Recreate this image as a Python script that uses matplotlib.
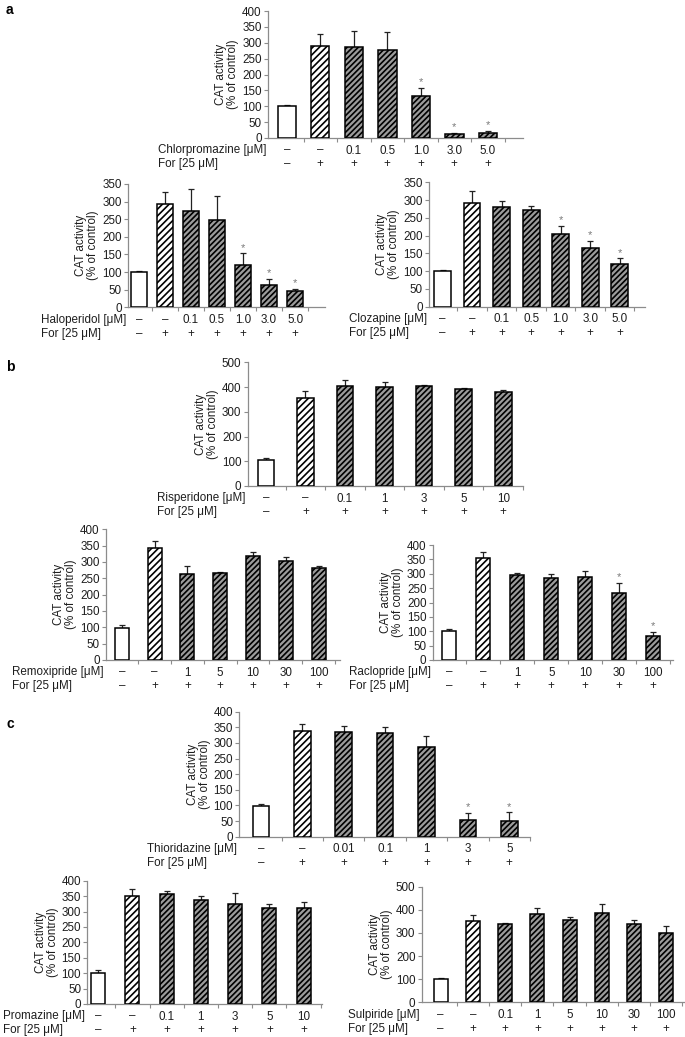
import matplotlib
matplotlib.use("Agg")
import matplotlib.pyplot as plt
from matplotlib.transforms import offset_copy
import numpy as np

plt.rcParams["font.family"] = ["Liberation Sans", "DejaVu Sans"]
plt.rcParams["font.size"] = 8.4
plt.rcParams["hatch.linewidth"] = 1.2

W, H = 685, 1037

# ---- data ----
for_plus = ["–", "+", "+", "+", "+", "+", "+", "+"]

chlor_doses = ["–", "–", "0.1", "0.5", "1.0", "3.0", "5.0"]
chlor_mean = [100, 291, 287, 277, 132, 13, 15]
chlor_err = [3, 36, 50, 58, 27, 2, 7]
chlor_star = [4, 5, 6]

halo_doses = ["–", "–", "0.1", "0.5", "1.0", "3.0", "5.0"]
halo_mean = [100, 294, 274, 248, 120, 63, 46]
halo_err = [3, 32, 61, 69, 33, 17, 7]
halo_star = [4, 5, 6]

cloz_doses = ["–", "–", "0.1", "0.5", "1.0", "3.0", "5.0"]
cloz_mean = [100, 293, 280, 272, 204, 166, 121]
cloz_err = [2, 33, 16, 10, 23, 19, 15]
cloz_star = [4, 5, 6]

risp_doses = ["–", "–", "0.1", "1", "3", "5", "10"]
risp_mean = [105, 357, 405, 399, 404, 393, 380]
risp_err = [7, 27, 25, 23, 5, 5, 8]
risp_star = []

remox_doses = ["–", "–", "1", "5", "10", "30", "100"]
remox_mean = [99, 342, 264, 265, 317, 303, 281]
remox_err = [8, 22, 24, 4, 15, 11, 6]
remox_star = []

raclo_doses = ["–", "–", "1", "5", "10", "30", "100"]
raclo_mean = [101, 354, 296, 286, 290, 232, 84]
raclo_err = [7, 21, 8, 13, 21, 35, 15]
raclo_star = [5, 6]

thio_doses = ["–", "–", "0.01", "0.1", "1", "3", "5"]
thio_mean = [98, 339, 335, 333, 286, 53, 50]
thio_err = [6, 21, 20, 17, 36, 22, 28]
thio_star = [5, 6]

proma_doses = ["–", "–", "0.1", "1", "3", "5", "10"]
proma_mean = [100, 350, 356, 336, 323, 312, 310]
proma_err = [10, 23, 12, 15, 36, 14, 22]
proma_star = []

sulp_doses = ["–", "–", "0.1", "1", "5", "10", "30", "100"]
sulp_mean = [100, 352, 337, 383, 355, 385, 337, 298]
sulp_err = [4, 26, 7, 23, 13, 40, 17, 32]
sulp_star = []

# ---- layout: pixel boxes (left, top, right, bottom), x limits, y max/step, bar width ----
panels = [
    ("Chlorpromazine", chlor_doses, chlor_mean, chlor_err, chlor_star, (268, 11, 523, 138), (-0.56, 7.05), 400, 50, 0.55),
    ("Haloperidol", halo_doses, halo_mean, halo_err, halo_star, (128, 184, 325, 307.3), (-0.42, 7.15), 350, 50, 0.62),
    ("Clozapine", cloz_doses, cloz_mean, cloz_err, cloz_star, (429, 182.3, 645, 306.7), (-0.46, 6.86), 350, 50, 0.57),
    ("Risperidone", risp_doses, risp_mean, risp_err, risp_star, (247.7, 362.3, 523, 486), (-0.46, 6.5), 500, 100, 0.42),
    ("Remoxipride", remox_doses, remox_mean, remox_err, remox_star, (106, 529.3, 340, 660), (-0.48, 6.65), 400, 50, 0.43),
    ("Raclopride", raclo_doses, raclo_mean, raclo_err, raclo_star, (432.7, 545, 673, 660), (-0.49, 6.58), 400, 50, 0.41),
    ("Thioridazine", thio_doses, thio_mean, thio_err, thio_star, (239.3, 711.7, 530, 836.7), (-0.52, 6.43), 400, 50, 0.40),
    ("Promazine", proma_doses, proma_mean, proma_err, proma_star, (87.3, 880.7, 321.7, 1004), (-0.32, 6.53), 400, 50, 0.41),
    ("Sulpiride", sulp_doses, sulp_mean, sulp_err, sulp_star, (421.7, 886.7, 684, 1002.3), (-0.59, 7.55), 500, 100, 0.43),
]

AXIS_GREY = "#8c8c8c"
TEXT = "#1e1e1e"


def draw_panel(fig, name, doses, mean, err, stars, box, xlim, ymax, ystep, width):
    l, t, r, b = box
    ax = fig.add_axes([l / W, 1 - b / H, (r - l) / W, (b - t) / H])
    n = len(mean)
    x = np.arange(n)
    colors = ["white", "white"] + ["#9b9b9b"] * (n - 2)
    hatches = [None, "/////"] + ["//////"] * (n - 2)
    bars = ax.bar(x, mean, width, color=colors, edgecolor="black", linewidth=1.1, zorder=3)
    for bar, h in zip(bars, hatches):
        if h:
            bar.set_hatch(h)
    ax.errorbar(x, mean, yerr=[np.zeros(n), err], fmt="none", ecolor="#222222",
                elinewidth=0.9, capsize=2.2, capthick=0.9, zorder=2)
    for i in stars:
        ax.annotate("*", xy=(i, mean[i] + err[i]), xytext=(0, 0.5), textcoords="offset points",
                    ha="center", va="bottom", color="#7a7a7a", fontsize=8)

    ax.set_xlim(*xlim)
    ax.set_ylim(0, ymax)
    ax.set_yticks(np.arange(0, ymax + 1, ystep))
    ax.set_xticks(np.arange(n) + 0.5)
    ax.set_xticklabels([])
    for s in ["top", "right"]:
        ax.spines[s].set_visible(False)
    for s in ["left", "bottom"]:
        ax.spines[s].set_color(AXIS_GREY)
        ax.spines[s].set_linewidth(0.9)
    ax.tick_params(axis="both", colors=AXIS_GREY, length=3, width=0.8, labelcolor=TEXT, pad=1.5)
    ax.set_ylabel("CAT activity\n(% of control)", labelpad=2, linespacing=1.0, color=TEXT)

    row1 = offset_copy(ax.get_xaxis_transform(), fig=fig, y=-12.5, units="dots")
    row2 = offset_copy(ax.get_xaxis_transform(), fig=fig, y=-26.5, units="dots")
    for i in range(n):
        ax.text(i, 0, doses[i], transform=row1, ha="center", va="center", color=TEXT)
        ax.text(i, 0, for_plus[i], transform=row2, ha="center", va="center", color=TEXT)
    name1 = offset_copy(ax.transAxes, fig=fig, x=-2, y=-12.5, units="dots")
    drug = ax.text(0, 0, name + " [μM]", transform=name1, ha="right", va="center", color=TEXT)
    return ax, drug


fig = plt.figure(figsize=(W / 100, H / 100), dpi=100)
labels = [draw_panel(fig, *p) for p in panels]

# "For [25 uM]" is left-aligned under the drug name
fig.canvas.draw()
renderer = fig.canvas.get_renderer()
for ax, drug in labels:
    ext = drug.get_window_extent(renderer)
    xf = ext.x0 / W
    trans = offset_copy(ax.transAxes, fig=fig, y=-26.5, units="dots")
    x_ax = ax.transAxes.inverted().transform((ext.x0, 0))[0]
    ax.text(x_ax, 0, "For [25 μM]", transform=trans, ha="left", va="center", color=TEXT)

for letter, ypix in [("a", 10), ("b", 367), ("c", 724)]:
    fig.text(6 / W, 1 - ypix / H, letter, fontweight="bold", fontsize=10, ha="left", va="center")

fig.savefig("out.png", dpi=100)
